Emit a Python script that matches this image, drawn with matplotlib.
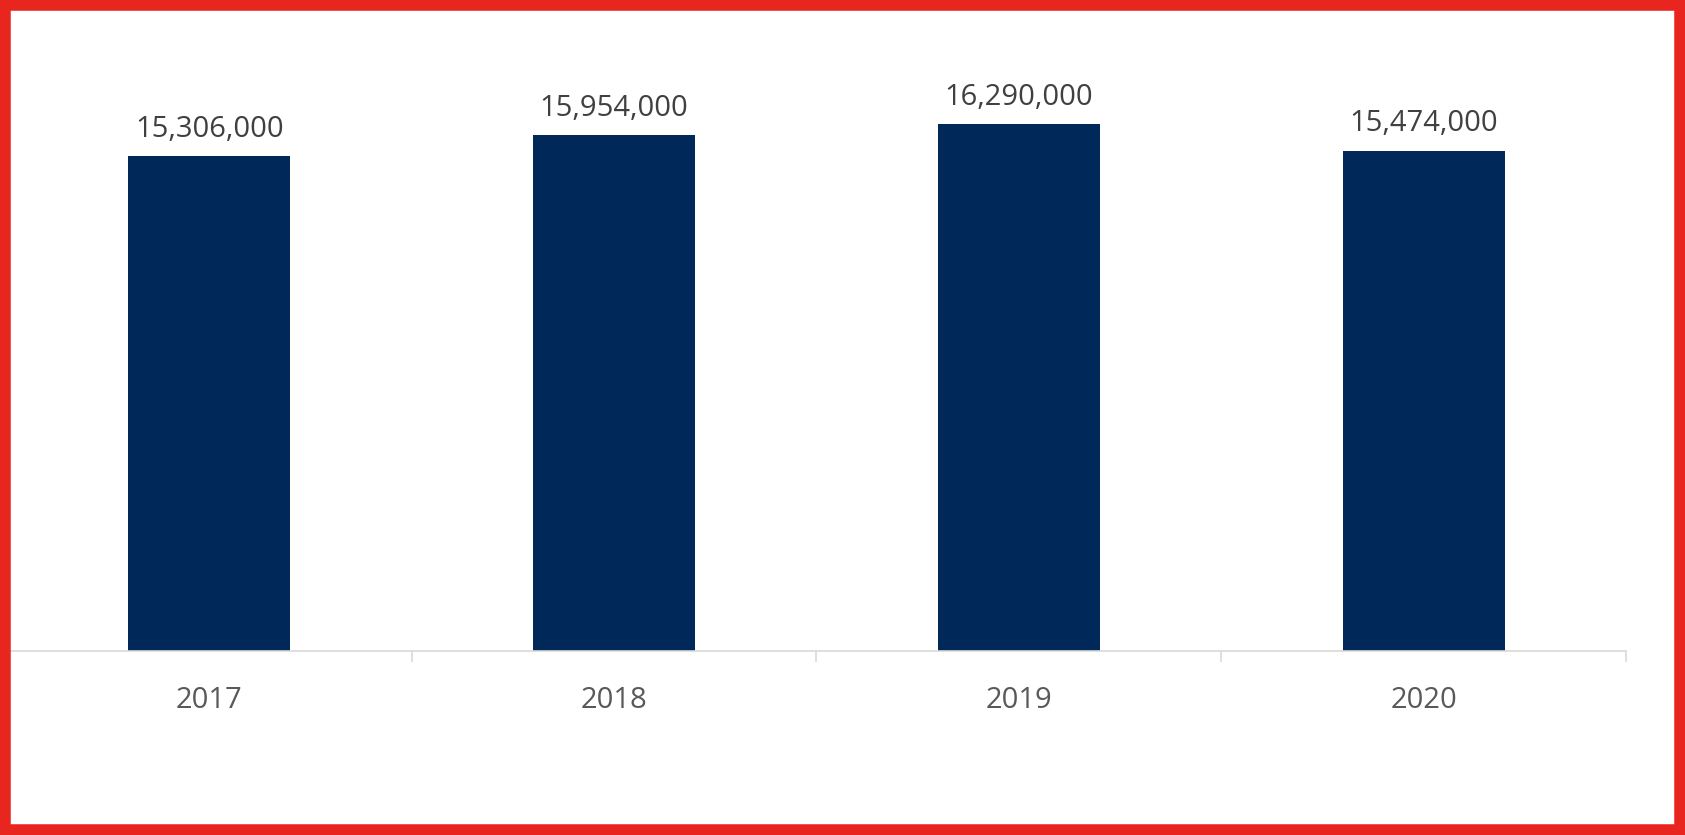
import matplotlib
matplotlib.use('Agg')
from matplotlib import pyplot as plt
from matplotlib.patches import Rectangle

# data
years = ['2017', '2018', '2019', '2020']
values = [15306000, 15954000, 16290000, 15474000]

plt.rcParams['font.family'] = ['Open Sans', 'DejaVu Sans']

fig = plt.figure(figsize=(16.85, 8.35), dpi=100)
ax = fig.add_axes([0.00415, 0.2198, 0.9608, 0.6978])

x = range(len(years))
bars = ax.bar(x, values, width=0.40, color='#00295A', zorder=2)

ax.set_xlim(-0.5, len(years) - 0.5)
ax.set_ylim(0, 18000000)

# value labels above the bars
labels = ['{:,}'.format(v) for v in values]
ax.bar_label(bars, labels=labels, padding=9, fontsize=21, color='#404040')

# category boundary ticks, labels centred on the bars
ax.set_xticks([i - 0.5 for i in range(len(years) + 1)])
ax.set_xticklabels([])
ax.set_xticks(list(x), minor=True)
ax.set_xticklabels(years, minor=True, fontsize=21, color='#595959')
ax.tick_params(axis='x', which='major', length=8, width=1.2, color='#d9d9d9')
ax.tick_params(axis='x', which='minor', length=0, pad=25)

ax.set_yticks([])
for side in ['top', 'right', 'left']:
    ax.spines[side].set_visible(False)
ax.spines['bottom'].set_color('#d9d9d9')
ax.spines['bottom'].set_linewidth(1.2)

# red frame round the whole picture
fig.patches.append(Rectangle((0, 0), 1, 1, transform=fig.transFigure, fill=False,
                             edgecolor='#E8251F', linewidth=15.5, zorder=10))

fig.savefig('out.png', dpi=100)
